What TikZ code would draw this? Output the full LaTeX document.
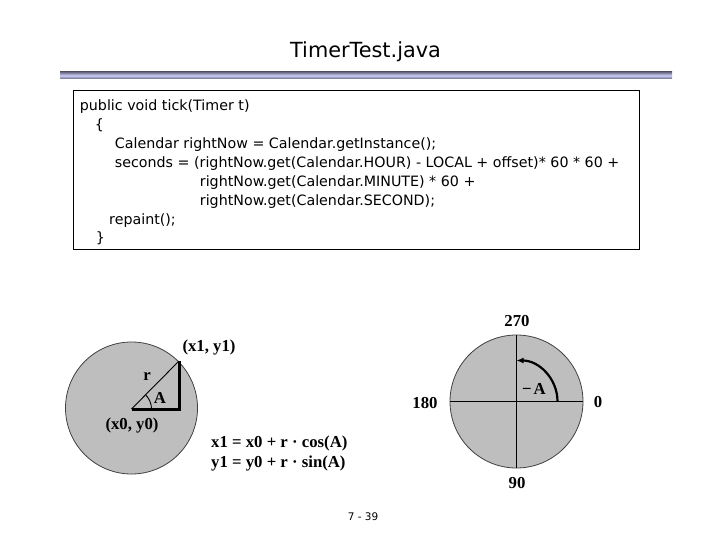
\documentclass[tikz,border=0pt]{standalone}
\usepackage{fontspec}
\setmainfont{Liberation Serif}
\newfontfamily\uifont{DejaVu Sans}
\usetikzlibrary{arrows.meta,calc}
\definecolor{barEdge}{RGB}{105,105,130}
\definecolor{barMid}{RGB}{205,205,248}
\definecolor{circFill}{RGB}{190,190,190}
\tikzset{
  codeline/.style={anchor=base west,inner sep=0pt,font=\uifont\fontsize{14.3}{17}\selectfont},
  lbl/.style={inner sep=0pt,font=\bfseries\fontsize{16.8}{19}\selectfont},
  num/.style={inner sep=0pt,font=\bfseries\fontsize{16.8}{20}\selectfont},
  disc/.style={draw=black!75,line width=0.8bp,fill=circFill},
  thickleg/.style={line width=3bp},
  thinline/.style={line width=0.9bp}
}
\begin{document}
\begin{tikzpicture}[x=1bp,y=-1bp]
\useasboundingbox (0,0) rectangle (720,540);
% title and bar
\node[anchor=base,inner sep=0pt,font=\uifont\fontsize{20.9}{24}\selectfont] (title) at (365.5,58) {TimerTest.java};
\shade[top color=barEdge,bottom color=barEdge,middle color=barMid] (60,72) rectangle (672,79);
% code box
\node[draw,line width=1bp,minimum width=566bp,minimum height=159bp,inner sep=0pt,anchor=north west] (codebox) at (73,90) {};
\node[codeline] (l1) at (79.7,110.7) {public void tick(Timer t)};
\node[codeline] (l2) at (94.7,129.6) {\{};
\node[codeline] (l3) at (114.7,148.5) {Calendar rightNow = Calendar.getInstance();};
\node[codeline] (l4) at (114.7,167.4) {seconds = (rightNow.get(Calendar.HOUR) - LOCAL + offset)* 60 * 60 +};
\node[codeline] (l5) at (199.7,186.3) {rightNow.get(Calendar.MINUTE) * 60 +};
\node[codeline] (l6) at (199.7,205.2) {rightNow.get(Calendar.SECOND);};
\node[codeline] (l7) at (109,224.1) {repaint();};
\node[codeline] (l8) at (95.7,243) {\}};
% left circle
\coordinate (c0) at (131.5,409);
\coordinate (base) at (179,409);
\coordinate (p1) at (179,361);
\coordinate (arcstart) at (151.5,409);
\draw[disc] (131.5,408) circle[radius=66];
\draw[thickleg] (c0) -- (base) -- (p1);
\draw[thinline] (c0) -- (p1);
\draw[thinline] (arcstart) arc[start angle=0,end angle=-45,radius=20];
\node[lbl] (rlbl) at (147,377) {r};
\node[lbl] (albl) at (160,398) {A};
\node[lbl] (x1lbl) at (209,347) {(x1, y1)};
\node[lbl] (x0lbl) at (132,425) {(x0, y0)};
\node[lbl,anchor=west] (f1) at (211,443) {x1 = x0 + r · cos(A)};
\node[lbl,anchor=west] (f2) at (211,463) {y1 = y0 + r · sin(A)};
% right circle
\coordinate (c1) at (516.5,401.5);
\draw[disc] (c1) circle[radius=66.5];
\coordinate (east) at (583,401.5);
\coordinate (west) at (450,401.5);
\coordinate (north) at (516.5,335);
\coordinate (south) at (516.5,468);
\coordinate (arrstart) at (557.5,401.5);
\draw[thinline] (west) -- (east);
\draw[thinline] (north) -- (south);
\draw[line width=2.2bp,-{Latex[length=7bp,width=6bp]}] (arrstart) arc[start angle=0,end angle=-90,radius=41];
\node[lbl] (malbl) at (534,389) {−\kern2bp A};
\node[num] (n270) at (517,321) {270};
\node[num] (n180) at (425,403) {180};
\node[num] (n0) at (598,402) {0};
\node[num] (n90) at (517,483) {90};
% page number
\node[inner sep=0pt,font=\uifont\fontsize{10.5}{12}\selectfont] (page) at (363,517) {7 - 39};
\end{tikzpicture}
\end{document}
